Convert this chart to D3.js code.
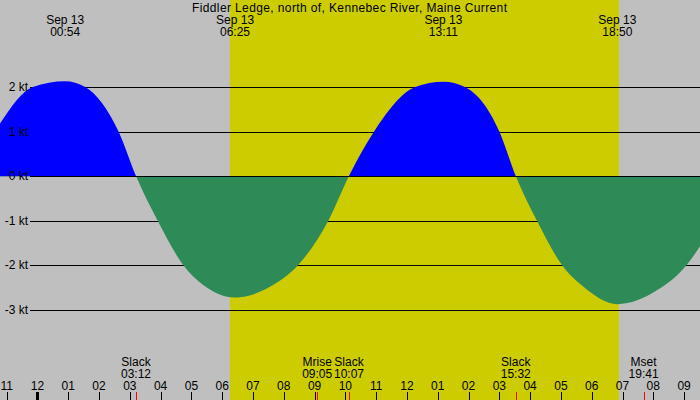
<!DOCTYPE html>
<html>
<head>
<meta charset="utf-8">
<script src="https://d3js.org/d3.v7.min.js"></script>
<style>
  html, body { margin: 0; padding: 0; background: #bfbfbf; }
  svg { display: block; font-family: "Liberation Sans", Arial, sans-serif; font-size: 12px; }
</style>
</head>
<body>
<svg id="chart" width="700" height="400"></svg>
<script>
'use strict';

var TITLE = 'Fiddler Ledge, north of, Kennebec River, Maine Current';

// current speed (kt, + flood / - ebb)
var currentTimes = [
    '2024-09-12 22:47', '2024-09-12 23:51', '2024-09-13 00:54', '2024-09-13 01:33',
    '2024-09-13 02:38', '2024-09-13 03:12', '2024-09-13 03:54', '2024-09-13 04:44',
    '2024-09-13 05:23', '2024-09-13 06:25', '2024-09-13 07:33', '2024-09-13 08:28',
    '2024-09-13 09:27', '2024-09-13 10:07', '2024-09-13 10:56', '2024-09-13 12:16',
    '2024-09-13 13:11', '2024-09-13 13:53', '2024-09-13 15:00', '2024-09-13 15:32',
    '2024-09-13 16:13', '2024-09-13 17:02', '2024-09-13 17:44', '2024-09-13 18:50',
    '2024-09-13 20:07', '2024-09-13 21:05', '2024-09-13 21:31'
];
var currentKnots = [
    1.18, 2.0, 2.13, 2.0,
    1.0, 0, -1.0, -2.0,
    -2.45, -2.73, -2.49, -2.0,
    -1.0, 0, 1.0, 2.0,
    2.12, 2.0, 1.0, 0,
    -1.0, -2.0, -2.49, -2.88,
    -2.57, -2.0, -1.58
];

// max flood / max ebb times shown at the top
var peakTimes = ['2024-09-13 00:54', '2024-09-13 06:25', '2024-09-13 13:11', '2024-09-13 18:50'];

// slack water and moon events shown at the bottom
var eventNames = ['Slack', 'Mrise', 'Slack', 'Slack', 'Mset'];
var eventTimes = ['2024-09-13 03:12', '2024-09-13 09:05', '2024-09-13 10:07', '2024-09-13 15:32', '2024-09-13 19:41'];

var sunTimes = ['2024-09-13 06:15', '2024-09-13 18:53'];
var knotTicks = [2, 1, 0, -1, -2, -3];
var viewRange = ['2024-09-12 22:47', '2024-09-13 21:31'];

var parse = d3.timeParse('%Y-%m-%d %H:%M');
var W = 700, H = 400;

draw();

function draw() {
    var svg = d3.select('#chart');

    var x = d3.scaleTime()
        .domain(viewRange.map(parse))
        .range([0, W]);
    var y = d3.scaleLinear()
        .domain([-3, 2])
        .range([309.5, 87]);

    var data = currentTimes.map(function(t, i) {
        return { t: parse(t), v: currentKnots[i] };
    });

    // night background + daylight band
    svg.append('rect')
        .attr('width', W).attr('height', H)
        .attr('fill', '#bfbfbf');
    svg.append('rect')
        .attr('x', x(parse(sunTimes[0])))
        .attr('width', x(parse(sunTimes[1])) - x(parse(sunTimes[0])))
        .attr('height', H)
        .attr('fill', '#cccc00');

    // grid lines
    svg.selectAll('.grid')
        .data(knotTicks)
        .enter().append('line')
        .attr('x1', 30).attr('x2', W)
        .attr('y1', function(d) { return Math.round(y(d)) + 0.5; })
        .attr('y2', function(d) { return Math.round(y(d)) + 0.5; })
        .attr('stroke', '#000');

    var y0 = Math.round(y(0)) + 0.5;
    var defs = svg.append('defs');
    defs.append('clipPath').attr('id', 'above')
        .append('rect').attr('x', 0).attr('y', 0).attr('width', W).attr('height', y0);
    defs.append('clipPath').attr('id', 'below')
        .append('rect').attr('x', 0).attr('y', y0).attr('width', W).attr('height', H - y0);

    var area = d3.area()
        .x(function(d) { return x(d.t); })
        .y0(y0)
        .y1(function(d) { return y(d.v); })
        .curve(d3.curveMonotoneX);

    svg.append('path').datum(data)
        .attr('d', area)
        .attr('clip-path', 'url(#above)')
        .attr('fill', '#0000ff');
    svg.append('path').datum(data)
        .attr('d', area)
        .attr('clip-path', 'url(#below)')
        .attr('fill', '#2e8b57');

    // zero line sits over the fill
    svg.append('line')
        .attr('x1', 30).attr('x2', W)
        .attr('y1', y0).attr('y2', y0)
        .attr('stroke', '#000');

    // kt labels
    svg.selectAll('.klabel')
        .data(knotTicks)
        .enter().append('text')
        .attr('x', 28)
        .attr('y', function(d) { return y(d); })
        .attr('dy', '0.36em')
        .attr('text-anchor', 'end')
        .attr('fill', '#000')
        .text(function(d) { return d + ' kt'; });

    // title (the original font runs a little wider)
    svg.append('text')
        .attr('x', 192).attr('y', 11.5)
        .attr('textLength', 315)
        .attr('lengthAdjust', 'spacing')
        .text(TITLE);

    // max current labels
    var fmtDay = d3.timeFormat('%b %d'), fmtHM = d3.timeFormat('%H:%M');
    peakTimes.forEach(function(t) {
        var d = parse(t);
        var g = svg.append('g').attr('text-anchor', 'middle');
        g.append('text').attr('x', x(d)).attr('y', 23.5).text(fmtDay(d));
        g.append('text').attr('x', x(d)).attr('y', 35.5).text(fmtHM(d));
    });

    // hour axis along the bottom
    var hours = x.ticks(d3.timeHour.every(1));
    var fmtHour = d3.timeFormat('%I');
    hours.forEach(function(h) {
        var hx = Math.round(x(h));
        var midnight = h.getHours() === 0;
        svg.append('rect')
            .attr('x', midnight ? hx - 1 : hx)
            .attr('y', 392)
            .attr('width', midnight ? 3 : 1)
            .attr('height', 8)
            .attr('fill', '#000');
        svg.append('text')
            .attr('x', x(h)).attr('y', 389.5)
            .attr('text-anchor', 'middle')
            .text(fmtHour(h));
    });

    // slack / moon events
    eventTimes.forEach(function(t, i) {
        var d = parse(t);
        var ex = Math.round(x(d));
        svg.append('rect')
            .attr('x', ex).attr('y', 392)
            .attr('width', 1).attr('height', 8)
            .attr('fill', '#ff0000');
        var g = svg.append('g').attr('text-anchor', 'middle');
        g.append('text').attr('x', x(d)).attr('y', 366).text(eventNames[i]);
        g.append('text').attr('x', x(d)).attr('y', 378).text(fmtHM(d));
    });
}
</script>
</body>
</html>
